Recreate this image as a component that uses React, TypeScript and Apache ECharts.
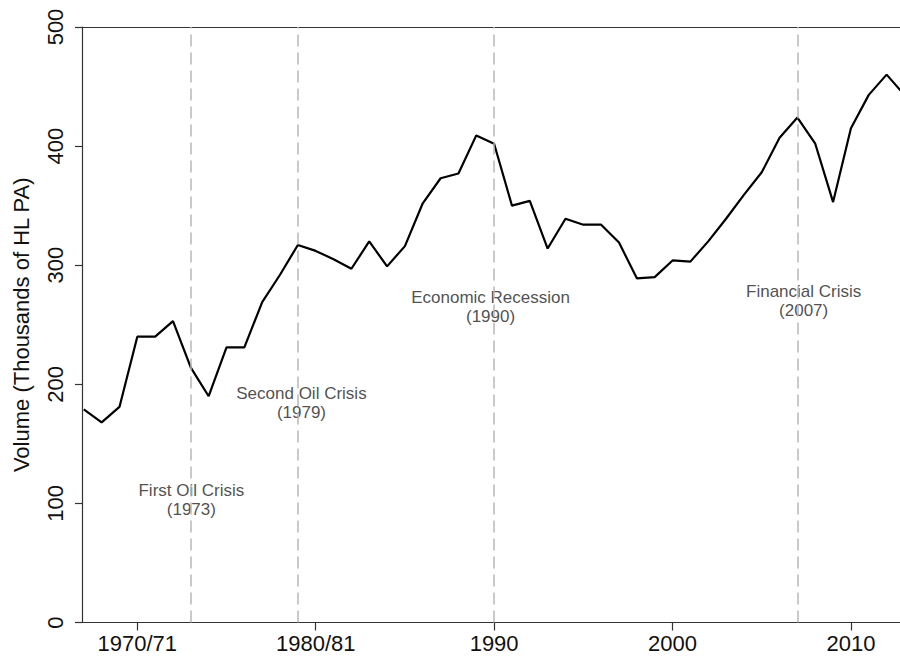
import React, { useEffect, useRef } from "react";
import * as echarts from "echarts";

const years = [
  1967, 1968, 1969, 1970, 1971, 1972, 1973, 1974, 1975, 1976, 1977, 1978, 1979,
  1980, 1981, 1982, 1983, 1984, 1985, 1986, 1987, 1988, 1989, 1990, 1991, 1992,
  1993, 1994, 1995, 1996, 1997, 1998, 1999, 2000, 2001, 2002, 2003, 2004, 2005,
  2006, 2007, 2008, 2009, 2010, 2011, 2012, 2013,
];
const volume = [
  179, 168, 181, 240, 240, 253, 214, 190, 231, 231, 269, 292, 317,
  312, 305, 297, 320, 299, 316, 352, 373, 377, 409, 402, 350, 354,
  314, 339, 334, 334, 319, 289, 290, 304, 303, 320, 339, 359, 378,
  407, 424, 402, 353, 415, 443, 460, 443,
];
const crisisYears = [1973, 1979, 1990, 2007];
const annotationX = [1973.03, 1979.2, 1989.8, 2007.35];
const annotationY = [103, 184, 265, 270];
const annotationTitle = [
  "First Oil Crisis",
  "Second Oil Crisis",
  "Economic Recession",
  "Financial Crisis",
];
const annotationYear = ["(1973)", "(1979)", "(1990)", "(2007)"];
const xTickValues = [1970, 1980, 1990, 2000, 2010];
const xTickLabels = ["1970/71", "1980/81", "1990", "2000", "2010"];

const FONT = "'Liberation Sans', Arial, sans-serif";

export default function App() {
  const ref = useRef<HTMLDivElement>(null);
  useEffect(() => {
    if (!ref.current) return;
    const chart = echarts.init(ref.current, null, { renderer: "svg" });
    const annLabel = (texts: string[], dy: number) => ({
      show: true,
      position: "inside",
      offset: [0, dy],
      fontSize: 17,
      lineHeight: 17,
      fontFamily: FONT,
      color: "#222",
      align: "center",
      verticalAlign: "middle",
      formatter: (p: any) => texts[p.dataIndex],
    });
    chart.setOption({
      animation: false,
      backgroundColor: "#ffffff",
      grid: { left: 82, right: 0, top: 27, bottom: 37.5, containLabel: false },
      xAxis: [
        {
          type: "value",
          min: 1966.9,
          max: 2012.75,
          axisLine: { show: true, onZero: false, lineStyle: { color: "#333", width: 1.2 } },
          axisTick: {
            show: true,
            length: 8,
            customValues: xTickValues,
            lineStyle: { color: "#333", width: 1.2 },
          },
          axisLabel: {
            show: true,
            customValues: xTickValues,
            margin: 10,
            fontSize: 22,
            fontFamily: FONT,
            color: "#111",
            formatter: (v: number) => {
              const i = xTickValues.indexOf(Math.round(v));
              return i >= 0 ? xTickLabels[i] : "";
            },
          },
          splitLine: { show: false },
        },
        {
          type: "value",
          position: "top",
          min: 1966.9,
          max: 2012.75,
          axisLine: { show: true, onZero: false, lineStyle: { color: "#333", width: 1.2 } },
          axisTick: { show: false },
          axisLabel: { show: false },
          splitLine: { show: false },
        },
      ],
      yAxis: {
        type: "value",
        min: 0,
        max: 500,
        interval: 100,
        name: "Volume (Thousands of HL PA)",
        nameLocation: "middle",
        nameGap: 50,
        nameTextStyle: { fontSize: 22, fontFamily: FONT, color: "#111" },
        axisLine: { show: true, lineStyle: { color: "#333", width: 1.2 } },
        axisTick: { show: true, length: 7, lineStyle: { color: "#333", width: 1.2 } },
        axisLabel: {
          rotate: 90,
          margin: 16,
          fontSize: 22,
          fontFamily: FONT,
          color: "#111",
        },
        splitLine: { show: false },
      },
      series: [
        {
          type: "line",
          xAxisIndex: 0,
          data: years.map((y, i) => [y, volume[i]]),
          symbol: "none",
          clip: true,
          lineStyle: { color: "#000", width: 2.2 },
          markLine: {
            silent: true,
            symbol: ["none", "none"],
            label: { show: false },
            lineStyle: { color: "#b8b8b8", width: 1.5, type: [12, 6] },
            data: crisisYears.map((x) => ({ xAxis: x })),
          },
          z: 3,
        },
        {
          type: "scatter",
          xAxisIndex: 0,
          symbolSize: 0,
          data: annotationX.map((x, i) => [x, annotationY[i]]),
          label: annLabel(annotationTitle, -9.5),
          z: 4,
        },
        {
          type: "scatter",
          xAxisIndex: 0,
          symbolSize: 0,
          data: annotationX.map((x, i) => [x, annotationY[i]]),
          label: annLabel(annotationYear, 9.5),
          z: 4,
        },
      ],
    });
    return () => chart.dispose();
  }, []);
  return (
    <div
      ref={ref}
      style={{ position: "fixed", left: 0, top: 0, width: 900, height: 660 }}
    />
  );
}
